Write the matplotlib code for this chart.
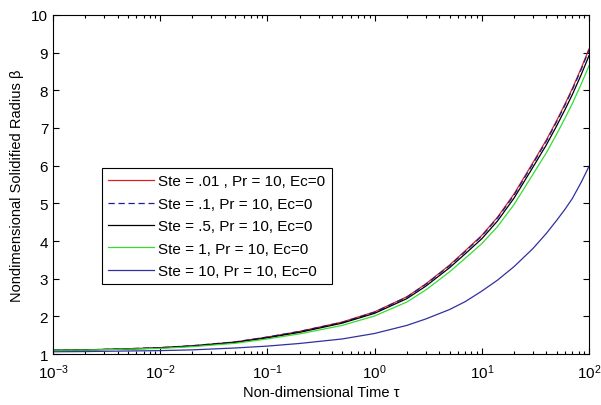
import matplotlib
matplotlib.use("Agg")
import matplotlib.pyplot as plt
from matplotlib.ticker import LogLocator, FixedLocator, NullLocator

plt.rcParams['font.family'] = ['Liberation Sans', 'DejaVu Sans']
plt.rcParams['mathtext.default'] = 'regular'

# values
tau = [1e-3, 2e-3, 5e-3, 1e-2, 2e-2, 5e-2, 0.1, 0.2, 0.5, 1, 2, 3, 5, 7,
       10, 14, 20, 30, 40, 50, 60, 70, 85, 100]
beta_ste001 = [1.10, 1.11, 1.14, 1.17, 1.22, 1.32, 1.45, 1.60, 1.85, 2.12, 2.52, 2.86,
               3.36, 3.74, 4.15, 4.63, 5.25, 6.08, 6.68, 7.20, 7.65, 8.05, 8.60, 9.10]
beta_ste01 = [1.10, 1.11, 1.14, 1.17, 1.22, 1.32, 1.45, 1.60, 1.84, 2.11, 2.51, 2.85,
              3.34, 3.72, 4.13, 4.61, 5.22, 6.05, 6.65, 7.17, 7.62, 8.02, 8.57, 9.07]
beta_ste05 = [1.10, 1.11, 1.13, 1.16, 1.21, 1.305, 1.43, 1.575, 1.82, 2.08, 2.47, 2.80,
              3.29, 3.66, 4.06, 4.53, 5.14, 5.96, 6.55, 7.06, 7.50, 7.89, 8.43, 8.92]
beta_ste1 = [1.10, 1.105, 1.13, 1.15, 1.195, 1.285, 1.40, 1.535, 1.76, 2.01, 2.38, 2.70,
             3.18, 3.54, 3.93, 4.38, 4.97, 5.77, 6.34, 6.84, 7.27, 7.65, 8.18, 8.65]
beta_ste10 = [1.06, 1.065, 1.08, 1.09, 1.11, 1.16, 1.21, 1.28, 1.40, 1.545, 1.76, 1.93,
              2.18, 2.39, 2.67, 2.96, 3.32, 3.80, 4.20, 4.55, 4.85, 5.13, 5.57, 5.98]

labels = ['Ste = .01 , Pr = 10, Ec=0',
          'Ste = .1, Pr = 10, Ec=0',
          'Ste = .5, Pr = 10, Ec=0',
          'Ste = 1, Pr = 10, Ec=0',
          'Ste = 10, Pr = 10, Ec=0']
y_ticks = [1, 2, 3, 4, 5, 6, 7, 8, 9, 10]

fig = plt.figure(figsize=(6.01, 4.06), dpi=100)
ax = fig.add_axes([0.0882, 0.1256, 0.8918, 0.835])

ax.plot(tau, beta_ste001, color='#e02020', lw=0.9, label=labels[0])
ax.plot(tau, beta_ste01, color='#1c1c9a', lw=0.9, ls=(0, (5, 3)), label=labels[1])
ax.plot(tau, beta_ste05, color='black', lw=0.9, label=labels[2])
ax.plot(tau, beta_ste1, color='#33dd33', lw=0.9, label=labels[3])
ax.plot(tau, beta_ste10, color='#3030a0', lw=0.9, label=labels[4])

ax.set_xscale('log')
ax.set_xlim(1e-3, 1e2)
ax.set_ylim(1, 10)
ax.yaxis.set_major_locator(FixedLocator(y_ticks))
ax.yaxis.set_minor_locator(NullLocator())
ax.xaxis.set_major_locator(LogLocator(base=10, numticks=10))
ax.xaxis.set_minor_locator(LogLocator(base=10, subs=range(2, 10), numticks=20))
ax.tick_params(which='both', direction='in', top=True, right=True, labelsize=11)
ax.tick_params(axis='x', which='major', pad=6)
ax.tick_params(which='major', length=4, width=0.8)
ax.tick_params(which='minor', length=2.5, width=0.8)
for s in ax.spines.values():
    s.set_linewidth(0.8)

ax.set_xlabel('Non-dimensional Time τ', fontsize=10.5, labelpad=3)
ax.set_ylabel('Nondimensional Solidified Radius β', fontsize=10.5, labelpad=5)

leg = ax.legend(loc='lower left', bbox_to_anchor=(0.091, 0.206), borderaxespad=0,
                fontsize=11, fancybox=False, framealpha=1, edgecolor='black',
                handlelength=3.0, labelspacing=0.55, handletextpad=0.3, borderpad=0.4)
leg.get_frame().set_linewidth(0.8)

fig.savefig('out.png', dpi=100)
